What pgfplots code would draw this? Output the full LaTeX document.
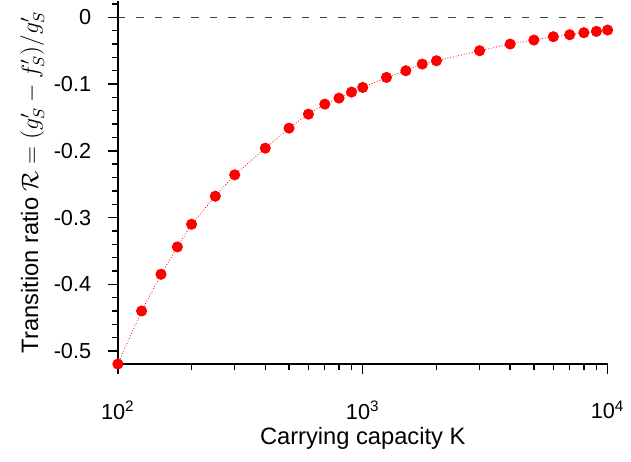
\documentclass[border=0pt]{standalone}
\usepackage{fontspec}
\setmainfont{Liberation Sans}
\usepackage{pgfplots}
\pgfplotsset{compat=1.18}

\begin{document}
\begin{tikzpicture}
\begin{semilogxaxis}[
    scale only axis,
    width=248pt, height=184pt,
    xmin=100, xmax=10000,
    ymin=-0.5195, ymax=0.025,
    axis lines*=left,
    axis line style={line width=0.7pt},
    tick align=outside,
    tick style={line width=0.7pt, black},
    major tick length=5pt,
    minor tick length=3pt,
    xtick={100,1000,10000},
    xticklabels={10\textsuperscript{2},10\textsuperscript{3},10\textsuperscript{4}},
    minor xtick={200,300,400,500,600,700,800,900,2000,3000,4000,5000,6000,7000,8000,9000},
    ytick={-0.5,-0.4,-0.3,-0.2,-0.1,0},
    yticklabels={-0.5,-0.4,-0.3,-0.2,-0.1,0},
    minor ytick={-0.48,-0.46,-0.44,-0.42,-0.38,-0.36,-0.34,-0.32,-0.28,-0.26,-0.24,-0.22,-0.18,-0.16,-0.14,-0.12,-0.08,-0.06,-0.04,-0.02,0.02},
    tick label style={font=\fontsize{11}{13}\selectfont},
    xticklabel style={yshift=-10pt},
    yticklabel style={xshift=-5pt},
    label style={font=\fontsize{12}{14}\selectfont},
    xlabel={Carrying capacity K},
    ylabel={Transition ratio $\mathcal{R}=(g'_S-f'_S)/g'_S$},
    xlabel style={yshift=3pt},
    ylabel style={yshift=-2pt},
    clip=false,
]
% zero reference
\addplot[black!75, line width=0.6pt, dash pattern=on 3.8pt off 5.5pt] coordinates {(100,0) (10000,0)};

\addplot[red, densely dotted, line width=0.4pt, mark=*, mark size=2.6pt,
         mark options={solid, fill=red, draw=red}]
coordinates {
(100,-0.5195)
(125,-0.440)
(150,-0.385)
(175,-0.344)
(200,-0.310)
(250,-0.268)
(300,-0.236)
(400,-0.196)
(500,-0.166)
(600,-0.145)
(700,-0.130)
(800,-0.121)
(900,-0.112)
(1000,-0.105)
(1250,-0.090)
(1500,-0.080)
(1750,-0.070)
(2000,-0.065)
(3000,-0.050)
(4000,-0.040)
(5000,-0.034)
(6000,-0.029)
(7000,-0.026)
(8000,-0.023)
(9000,-0.021)
(10000,-0.019)
};
\end{semilogxaxis}
\path ([xshift=-7pt]current bounding box.west) ([yshift=-3pt]current bounding box.south);
\end{tikzpicture}
\end{document}
